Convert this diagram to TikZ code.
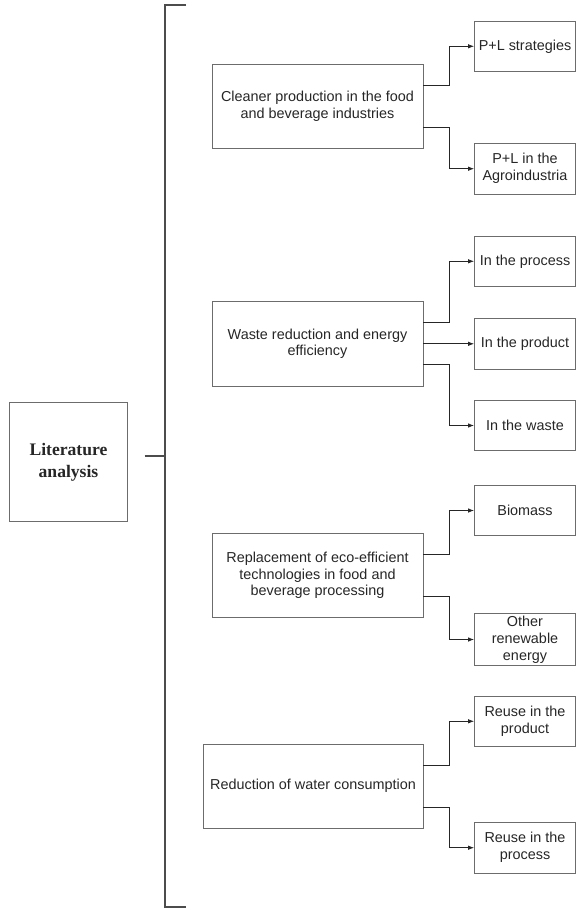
\documentclass[tikz,border=0pt]{standalone}
\usepackage{fontspec}
\setmainfont{Liberation Sans}
\newfontfamily\titlefont{Liberation Serif}
\usetikzlibrary{arrows.meta}

\begin{document}
\begin{tikzpicture}[
    x=1pt, y=-1pt,
    >={Latex[length=6pt, width=4.5pt]},
    box style/.style={draw=gray!85!black, line width=0.8pt, align=center, inner sep=2pt, text=black!85, font=\fontsize{14.4}{16.9}\selectfont},
    main style/.style={box style, minimum width=211pt, minimum height=84.3pt},
    sub style/.style={box style, minimum width=101pt, minimum height=50.7pt},
    title style/.style={box style, minimum width=118.4pt, minimum height=119pt, font=\titlefont\bfseries\fontsize{17.6}{22.5}\selectfont},
    path style/.style={line width=0.8pt, gray!30!black, ->},
    bracket style/.style={line width=2pt, gray!60!black}
]

% Fix the page size
\useasboundingbox (0,0) rectangle (576,908);

% Draw the title box
\node[title style] (lit) at (68.5,462.2) {Literature\\analysis};

% Draw the bracket
\coordinate (brk top) at (186,4.7);
\coordinate (brk bottom) at (186,907);
\coordinate (brk mid) at (164.5,456);
\draw[bracket style] (brk top) -- (164.5,4.7) -- (164.5,907) -- (brk bottom);
\draw[bracket style] ([xshift=16.6pt,yshift=6.2pt]lit.east) -- (brk mid);

% Draw the main topics
\node[main style] (clean) at (317.5,106.2) {Cleaner production in the food\\and beverage industries};
\node[main style] (waste) at (317.5,343.8) {Waste reduction and energy\\efficiency};
\node[main style] (repl) at (317.5,575.3) {Replacement of eco-efficient\\technologies in food and\\beverage processing};
\node[main style, minimum width=220pt] (water) at (313,786.2) {Reduction of water consumption};

% Draw the sub topics
\node[sub style] (pl strat) at (525,46.3) {P+L strategies};
\node[sub style] (pl agro) at (525,168.7) {P+L in the\\Agroindustria};
\node[sub style] (in proc) at (525,261.3) {In the process};
\node[sub style] (in prod) at (525,343.8) {In the product};
\node[sub style] (in waste) at (525,425.5) {In the waste};
\node[sub style] (biomass) at (525,510.5) {Biomass};
\node[sub style] (other) at (525,639.5) {Other\\renewable\\energy};
\node[sub style] (reuse prod) at (525,721.3) {Reuse in the\\product};
\node[sub style] (reuse proc) at (525,847.7) {Reuse in the\\process};

% Draw the arrows
\draw[path style] ([yshift=21pt]clean.east) -- ++(26,0) |- (pl strat.west);
\draw[path style] ([yshift=-21pt]clean.east) -- ++(26,0) |- (pl agro.west);
\draw[path style] ([yshift=21pt]waste.east) -- ++(26,0) |- (in proc.west);
\draw[path style] (waste.east) -- (in prod.west);
\draw[path style] ([yshift=-21pt]waste.east) -- ++(26,0) |- (in waste.west);
\draw[path style] ([yshift=21pt]repl.east) -- ++(26,0) |- (biomass.west);
\draw[path style] ([yshift=-21pt]repl.east) -- ++(26,0) |- (other.west);
\draw[path style] ([yshift=21pt]water.east) -- ++(26,0) |- (reuse prod.west);
\draw[path style] ([yshift=-21pt]water.east) -- ++(26,0) |- (reuse proc.west);
\end{tikzpicture}
\end{document}
